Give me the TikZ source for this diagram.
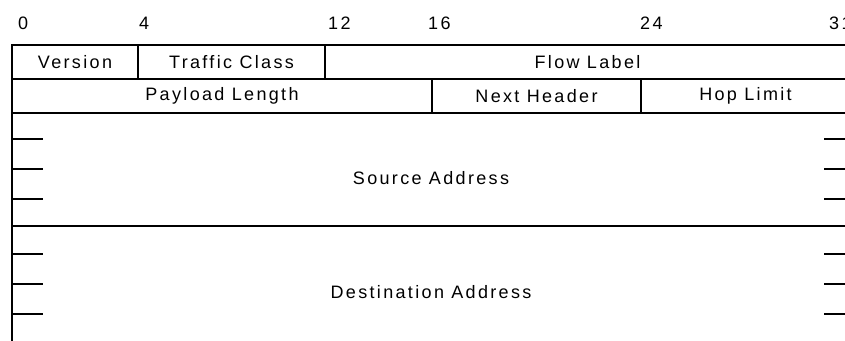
\documentclass[tikz,border=0pt]{standalone}
\usepackage{fontspec}
\newfontfamily\hdrfont[LetterSpace=13]{Liberation Sans}
\begin{document}
\begin{tikzpicture}[x=1pt,y=-1pt,font=\hdrfont\fontsize{18}{21}\selectfont,
    rule/.style={line width=1.7pt},
    bitno/.style={anchor=base west,inner sep=0pt}]
  \useasboundingbox (0,0) rectangle (845,340);
  % bit numbers
  \node[bitno] (b0) at (18,29){0}; \node[bitno] (b4) at (139,29){4};
  \node[bitno] (b12) at (328,29){12}; \node[bitno] (b16) at (428,29){16};
  \node[bitno] (b24) at (640,29){24}; \node[bitno] (b31) at (829,29){31};
  % frame and rows
  \draw[rule](850,45) -- (12,45) -- (12,345);
  \draw[rule](850,45) -- (850,345);
  \foreach \y in {79,113,226} \draw[rule](12,\y) -- (850,\y);
  \draw[rule](138,45) -- (138,79); \draw[rule](325,45) -- (325,79);
  \draw[rule](432,79) -- (432,113); \draw[rule](641,79) -- (641,113);
  % 32-bit word ticks
  \foreach \y in {139,169,199,254,284,314}{
    \draw[rule](12,\y) -- (43,\y); \draw[rule](824,\y) -- (850,\y);}
  % fields
  \node (ver) at (75,62){Version}; \node (tc) at (231.5,62){Traffic Class};
  \node (fl) at (587.5,62){Flow Label};
  \node (plen) at (222,96){Payload Length}; \node (nh) at (536.5,96){Next Header};
  \node (hop) at (745.5,96){Hop Limit};
  \node (src) at (431,178){Source Address};
  \node (dst) at (431,292){Destination Address};
\end{tikzpicture}
\end{document}
